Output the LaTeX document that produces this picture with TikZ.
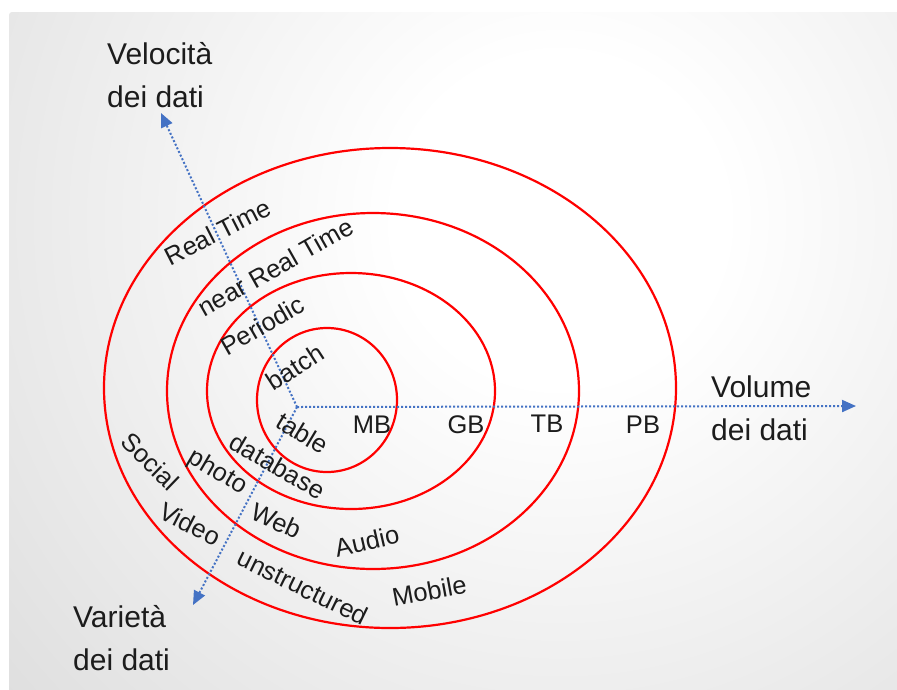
\documentclass[tikz,border=0pt]{standalone}
\usepackage{fontspec}
\setmainfont{Liberation Sans}
\usetikzlibrary{arrows.meta}
\definecolor{axisblue}{RGB}{68,114,196}
\definecolor{txt}{RGB}{28,28,28}
\pgfdeclareradialshading{bgshade}{\pgfpointorigin}{color(0bp)=(white); color(5bp)=(white); color(38bp)=(black!24); color(50bp)=(black!27)}
\begin{document}
\begin{tikzpicture}[x=1pt,y=-1pt,
  ring/.style={draw=red, line width=2.2pt},
  axis/.style={draw=axisblue, line width=2pt, dotted, -{Triangle[length=14pt,width=12pt]}},
  lbl/.style={text=txt, font=\fontsize{25.5}{30}\selectfont, inner sep=0, anchor=base},
  big/.style={text=txt, font=\fontsize{30}{42.5}\selectfont, align=left, inner sep=0, anchor=base west},
]
\useasboundingbox (0,0) rectangle (897,689);
\begin{scope}
  \clip[rounded corners=3pt] (9,12) rectangle (905,697);
  \shade[shading=bgshade] (560,220) circle (820);
\end{scope}

% rings
\draw[ring] (327,400) ellipse [x radius=70, y radius=72];
\draw[ring] (351,391) ellipse [x radius=144, y radius=118];
\draw[ring] (373,391) ellipse [x radius=206, y radius=178];
\draw[ring] (390,388) ellipse [x radius=286, y radius=240];

% axes
\coordinate (O) at (297,407);
\coordinate (vtip) at (161,113);
\coordinate (htip) at (856,406);
\coordinate (ltip) at (193,605);
\draw[axis] (O) -- (vtip);
\draw[axis] (O) -- (htip);
\draw[axis] (O) -- (ltip);

% axis titles (anchor on the baseline of the last line)
\node[big] (vel) at (107,107) {Velocità\\dei dati};
\node[big] (vol) at (711,440) {Volume\\dei dati};
\node[big] (var) at (73,670) {Varietà\\dei dati};

% velocity labels
\node[lbl, rotate=27] (rt) at (222,240) {Real Time};
\node[lbl, rotate=29.5] (nrt) at (280,275) {near Real Time};
\node[lbl, rotate=30] (per) at (267,333) {Periodic};
\node[lbl, rotate=33] (bat) at (300,375) {batch};

% volume labels
\node[lbl] (mb) at (372,433) {MB};
\node[lbl] (gb) at (466,433) {GB};
\node[lbl] (tb) at (547,432) {TB};
\node[lbl] (pb) at (643,433) {PB};

% variety labels
\node[lbl, rotate=-31] (tab) at (298,441) {table};
\node[lbl, rotate=-30] (db) at (273,474) {database};
\node[lbl, rotate=-30.5] (pho) at (214,478) {photo};
\node[lbl, rotate=-44] (soc) at (144,468) {Social};
\node[lbl, rotate=-27] (vid) at (186,532) {Video};
\node[lbl, rotate=-24] (web) at (273,529) {Web};
\node[lbl, rotate=13] (aud) at (369,550) {Audio};
\node[lbl, rotate=-26] (uns) at (299,595) {unstructured};
\node[lbl, rotate=10.5] (mob) at (431,600) {Mobile};
\end{tikzpicture}
\end{document}
